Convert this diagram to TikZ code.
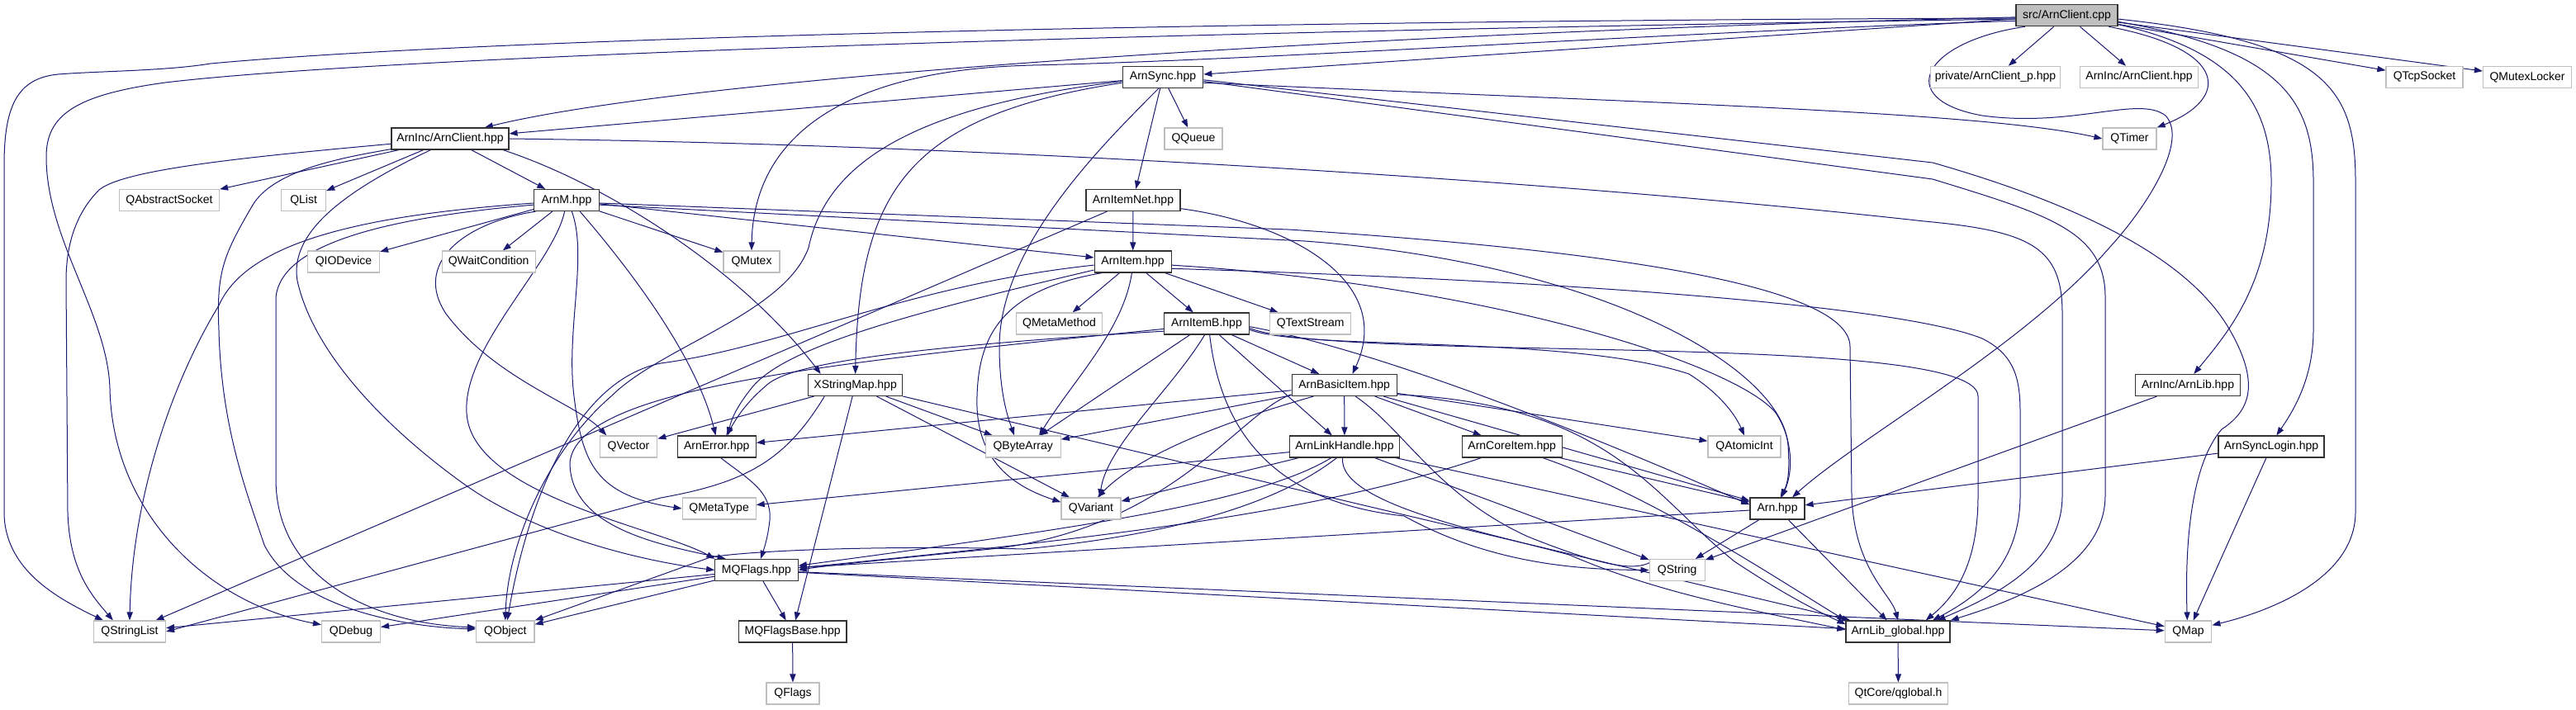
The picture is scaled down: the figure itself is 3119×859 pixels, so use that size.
\documentclass[tikz,border=0pt]{standalone}
\usepackage{fontspec}
\setmainfont{Liberation Sans}
\usetikzlibrary{arrows.meta}
\definecolor{edgec}{HTML}{191970}
\definecolor{grayb}{HTML}{BFBFBF}
\pgfdeclarelayer{bg}
\pgfsetlayers{bg,main}
\begin{document}
\begin{tikzpicture}[x=0.5pt,y=-0.5pt,
 nbox/.style={font=\fontsize{7}{8}\selectfont, inner xsep=1pt, inner ysep=0pt, minimum height=13pt, line width=0.6pt, fill=white},
 doc/.style={nbox, draw=black!80},
 ext/.style={nbox, draw=grayb},
 srcn/.style={nbox, draw=black!80, fill=grayb},
 edg/.style={draw=edgec, line width=0.5pt, -{Triangle[length=5pt,width=3.6pt]}}]
\useasboundingbox (0,0) rectangle (3119,859);
% nodes
\node[srcn, minimum width=61.5pt] (S) at (2502.5,18.7) {src/ArnClient.cpp};
\node[ext, minimum width=78.5pt] (priv) at (2416,93.3) {private/ArnClient\_p.hpp};
\node[ext, minimum width=71.5pt] (ACg) at (2590,93.3) {ArnInc/ArnClient.hpp};
\node[ext, minimum width=46.5pt] (QTcpSocket) at (2935.5,93.3) {QTcpSocket};
\node[ext, minimum width=53.5pt] (QMutexLocker) at (3060,93.3) {QMutexLocker};
\node[ext, minimum width=32.5pt] (QTimer) at (2578.5,168) {QTimer};
\node[doc, minimum width=48.75pt] (AS) at (1408,93.3) {ArnSync.hpp};
\node[ext, minimum width=35pt] (QQueue) at (1445,168) {QQueue};
\node[doc, minimum width=57pt] (AIN) at (1372,242.5) {ArnItemNet.hpp};
\node[doc, minimum width=71pt] (AC) at (545,168) {ArnInc/ArnClient.hpp};
\node[ext, minimum width=60.5pt] (QAbstractSocket) at (205,242.5) {QAbstractSocket};
\node[ext, minimum width=27pt] (QList) at (367.6,242.5) {QList};
\node[doc, minimum width=39.25pt] (AM) at (686,242.5) {ArnM.hpp};
\node[ext, minimum width=43.5pt] (QIODevice) at (416,317) {QIODevice};
\node[ext, minimum width=56.5pt] (QWaitCondition) at (591.6,317) {QWaitCondition};
\node[ext, minimum width=34pt] (QMutex) at (910,317) {QMutex};
\node[doc, minimum width=46.5pt] (AI) at (1371.6,317) {ArnItem.hpp};
\node[ext, minimum width=52pt] (QMetaMethod) at (1282.5,392) {QMetaMethod};
\node[doc, minimum width=51.25pt] (AIB) at (1461,392) {ArnItemB.hpp};
\node[ext, minimum width=49pt] (QTextStream) at (1586.6,392) {QTextStream};
\node[doc, minimum width=57pt] (XS) at (1035.6,466.5) {XStringMap.hpp};
\node[doc, minimum width=63.5pt] (ABI) at (1627.6,466.5) {ArnBasicItem.hpp};
\node[doc, minimum width=63.5pt] (AL) at (2649,466.5) {ArnInc/ArnLib.hpp};
\node[ext, minimum width=34.75pt] (QVector) at (761,541) {QVector};
\node[doc, minimum width=47.5pt] (AE) at (867.8,541) {ArnError.hpp};
\node[ext, minimum width=45.5pt] (QByteArray) at (1238.7,541) {QByteArray};
\node[doc, minimum width=66.5pt] (ALH) at (1628,541) {ArnLinkHandle.hpp};
\node[doc, minimum width=60.5pt] (ACI) at (1830.7,541) {ArnCoreItem.hpp};
\node[ext, minimum width=44pt] (QAtomicInt) at (2112,541) {QAtomicInt};
\node[doc, minimum width=64pt] (ASL) at (2750,541) {ArnSyncLogin.hpp};
\node[ext, minimum width=44.5pt] (QMetaType) at (870.6,616) {QMetaType};
\node[ext, minimum width=36pt] (QVariant) at (1321,616) {QVariant};
\node[doc, minimum width=33pt] (A) at (2152,616) {Arn.hpp};
\node[doc, minimum width=50.25pt] (MQ) at (916,690.5) {MQFlags.hpp};
\node[ext, minimum width=33.5pt] (QString) at (2030.6,690.5) {QString};
\node[ext, minimum width=43.5pt] (QStringList) at (157,765) {QStringList};
\node[ext, minimum width=35.5pt] (QDebug) at (425,765) {QDebug};
\node[ext, minimum width=35.25pt] (QObject) at (611.8,765) {QObject};
\node[doc, minimum width=65.3pt] (MQB) at (959.6,765) {MQFlagsBase.hpp};
\node[doc, minimum width=63pt] (ALG) at (2298,765) {ArnLib\_global.hpp};
\node[ext, minimum width=28.3pt] (QMap) at (2649.5,765) {QMap};
\node[ext, minimum width=32pt] (QFlags) at (960,840) {QFlags};
\node[ext, minimum width=60pt] (qglobal) at (2298.5,840) {QtCore/qglobal.h};
\begin{pgfonlayer}{bg}
% src/ArnClient.cpp
\draw[edg] (S) -- (priv);
\draw[edg] (S) -- (ACg);
\draw[edg] (S) -- (QTcpSocket);
\draw[edg] (S) -- (QMutexLocker);
\draw[edg] (S) -- (AS);
\draw[edg] (S.182) .. controls (1700,38) and (850,90) .. (AC.18);
\draw[edg] (S.183) .. controls (1500,25) and (600,45) .. (255,77) .. controls (200,86) and (120,86) .. (70,90) .. controls (20,95) and (5,130) .. (5,200) -- (5,620) .. controls (5,690) and (70,725) .. (QStringList.157);
\draw[edg] (S.184) .. controls (1300,40) and (450,70) .. (200,100) .. controls (90,115) and (56,140) .. (56,190) .. controls (56,290) and (130,380) .. (133,470) .. controls (136,620) and (250,730) .. (QDebug.167);
\draw[edg] (S.186) .. controls (2000,40) and (1550,72) .. (1250,79) .. controls (1000,85) and (912,180) .. (QMutex.north);
\draw[edg] (S.-15) .. controls (2700,60) and (2700,120) .. (QTimer.north east);
\draw[edg] (S.195) .. controls (2330,50) and (2290,120) .. (2400,140) .. controls (2510,155) and (2590,115) .. (2622,140) .. controls (2650,170) and (2600,250) .. (2554,300) .. controls (2450,420) and (2250,530) .. (A.37);
\draw[edg] (S.-10) .. controls (2700,60) and (2750,120) .. (2750,220) .. controls (2750,340) and (2700,400) .. (AL.62);
\draw[edg] (S.-7) .. controls (2760,60) and (2801,120) .. (2801,220) -- (2801,400) .. controls (2801,460) and (2775,500) .. (ASL.65);
\draw[edg] (S.-4) .. controls (2820,50) and (2852,110) .. (2852,220) -- (2852,620) .. controls (2852,700) and (2750,740) .. (QMap.15);
% ArnSync
\draw[edg] (AS) -- (AC);
\draw[edg] (AS) -- (QQueue);
\draw[edg] (AS) -- (AIN);
\draw[edg] (AS.-8) .. controls (2000,125) and (2400,135) .. (QTimer.west);
\draw[edg] (AS.-110) .. controls (1330,180) and (1210,300) .. (1210,420) .. controls (1210,480) and (1222,510) .. (QByteArray.128);
\draw[edg] (AS.188) .. controls (1100,140) and (1040,230) .. (XS.north);
\draw[edg] (AS.186) .. controls (1100,130) and (1000,200) .. (979,300) .. controls (950,380) and (800,420) .. (740,480) .. controls (670,540) and (615,650) .. (QObject.north);
\draw[edg] (AS.-4) -- (2340,197) .. controls (2560,260) and (2660,330) .. (2700,400) .. controls (2740,470) and (2720,500) .. (2690,520) .. controls (2655,560) and (2645,650) .. (QMap.95);
\draw[edg] (AS.-6) -- (2340,217) .. controls (2480,260) and (2549,280) .. (2549,360) -- (2549,600) .. controls (2549,690) and (2430,730) .. (ALG.12);
% ArnInc/ArnClient.hpp
\draw[edg] (AC) -- (QAbstractSocket);
\draw[edg] (AC) -- (QList);
\draw[edg] (AC) -- (AM);
\draw[edg] (AC.-12) .. controls (740,225) and (900,330) .. (XS.162);
\draw[edg] (AC.185) .. controls (300,190) and (150,205) .. (120,230) .. controls (90,260) and (80,300) .. (80,340) -- (82,620) .. controls (84,690) and (110,720) .. (QStringList.146);
\draw[edg] (AC.190) .. controls (420,190) and (330,205) .. (305,250) .. controls (270,310) and (262,330) .. (265,400) .. controls (268,520) and (300,600) .. (320,660) .. controls (360,740) and (500,760) .. (QObject.175);
\draw[edg] (AC.-150) .. controls (420,230) and (350,280) .. (360,340) .. controls (380,430) and (470,520) .. (560,585) .. controls (650,650) and (780,680) .. (MQ.west);
\draw[edg] (AC.east) .. controls (1200,175) and (1900,220) .. (2330,268) .. controls (2460,280) and (2497,300) .. (2497,380) -- (2497,600) .. controls (2497,680) and (2420,720) .. (ALG.16);
% ArnItemNet
\draw[edg] (AIN) -- (AI);
\draw[edg] (AIN) -- (QStringList);
\draw[edg] (AIN.-10) .. controls (1560,270) and (1690,340) .. (ABI.54);
% ArnM
\draw[edg] (AM) -- (QIODevice);
\draw[edg] (AM) -- (QWaitCondition);
\draw[edg] (AM) -- (QMutex);
\draw[edg] (AM) -- (AI);
\draw[edg] (AM.185) .. controls (450,260) and (300,290) .. (265,370) .. controls (210,460) and (160,600) .. (QStringList.north);
\draw[edg] (AM.188) .. controls (450,265) and (340,300) .. (334,360) -- (334,580) .. controls (334,700) and (450,755) .. (QObject.172);
\draw[edg] (AM.200) .. controls (560,270) and (500,320) .. (540,380) .. controls (600,460) and (700,490) .. (QVector.153);
\draw[edg] (AM.-40) .. controls (740,300) and (840,420) .. (AE.95);
\draw[edg] (AM.-100) .. controls (670,320) and (560,420) .. (565,500) .. controls (570,600) and (800,640) .. (MQ.165);
\draw[edg] (AM.-65) .. controls (712,310) and (685,400) .. (695,480) .. controls (705,560) and (720,600) .. (QMetaType.west);
\draw[edg] (AM.-5) -- (1560,278) .. controls (1900,300) and (2240,340) .. (2240,420) -- (2242,600) .. controls (2245,690) and (2290,720) .. (ALG.north);
\draw[edg] (AM.-8) -- (1580,292) .. controls (1950,320) and (2160,450) .. (2165,540) .. controls (2167,570) and (2165,585) .. (A.75);
% ArnItem
\draw[edg] (AI) -- (QMetaMethod);
\draw[edg] (AI) -- (AIB);
\draw[edg] (AI) -- (QTextStream);
\draw[edg] (AI.-95) .. controls (1360,400) and (1300,460) .. (QByteArray.35);
\draw[edg] (AI.192) .. controls (1100,380) and (950,420) .. (910,470) .. controls (890,495) and (885,510) .. (AE.45);
\draw[edg] (AI.185) .. controls (1100,345) and (950,420) .. (800,440) .. controls (700,460) and (640,600) .. (QObject.80);
\draw[edg] (AI.200) .. controls (1220,350) and (1185,400) .. (1183,480) .. controls (1180,560) and (1230,590) .. (QVariant.168);
\draw[edg] (AI.-10) .. controls (1900,340) and (2300,370) .. (2400,410) .. controls (2440,430) and (2446,460) .. (2446,500) -- (2446,600) .. controls (2446,680) and (2400,720) .. (ALG.18);
\draw[edg] (AI.-5) .. controls (1800,345) and (2100,440) .. (2150,500) .. controls (2170,530) and (2172,570) .. (A.70);
% ArnItemB
\draw[edg] (AIB) -- (ABI);
\draw[edg] (AIB) -- (ALH);
\draw[edg] (AIB) -- (QByteArray);
\draw[edg] (AIB.190) .. controls (1100,420) and (960,440) .. (930,465) .. controls (900,490) and (890,510) .. (AE.50);
\draw[edg] (AIB.-100) .. controls (1420,470) and (1340,540) .. (QVariant.52);
\draw[edg] (AIB.187) .. controls (1000,440) and (700,470) .. (690,560) .. controls (690,640) and (800,660) .. (MQ.160);
\draw[edg] (AIB.-4) .. controls (1700,430) and (2000,560) .. (A.172);
\draw[edg] (AIB.-75) .. controls (1480,540) and (1560,610) .. (1700,625) .. controls (1800,680) and (1900,690) .. (QString.west);
\draw[edg] (AIB.-8) .. controls (1580,425) and (1900,405) .. (2045,453) .. controls (2080,475) and (2100,500) .. (QAtomicInt.north);
\draw[edg] (AIB.-6) .. controls (1620,440) and (2395,400) .. (2395,480) -- (2395,600) .. controls (2395,680) and (2370,720) .. (ALG.22);
% ArnBasicItem
\draw[edg] (ABI) -- (ALH);
\draw[edg] (ABI) -- (ACI);
\draw[edg] (ABI) -- (QAtomicInt);
\draw[edg] (ABI) -- (AE);
\draw[edg] (ABI) -- (QByteArray);
\draw[edg] (ABI) -- (A);
\draw[edg] (ABI.-160) .. controls (1450,520) and (1370,560) .. (QVariant.60);
\draw[edg] (ABI.190) .. controls (1500,500) and (1420,640) .. (1200,665) .. controls (1100,675) and (1000,685) .. (MQ.east);
\draw[edg] (ABI.-45) .. controls (1700,520) and (1740,600) .. (1850,650) .. controls (1950,690) and (1980,690) .. (QString.150);
\draw[edg] (ABI.-10) .. controls (1950,490) and (2000,600) .. (2100,680) .. controls (2160,720) and (2200,740) .. (ALG.172);
% ArnLinkHandle
\draw[edg] (ALH) -- (QMetaType);
\draw[edg] (ALH) -- (QVariant);
\draw[edg] (ALH) -- (QString);
\draw[edg] (ALH) -- (QMap);
\draw[edg] (ALH.-140) .. controls (1520,610) and (1300,640) .. (MQ.6);
\draw[edg] (ALH.-125) .. controls (1560,600) and (1450,645) .. (1240,665) .. controls (1050,660) and (900,668) .. (860,675) -- (QObject.north east);
\draw[edg] (ALH.-100) .. controls (1620,610) and (1800,645) .. (1900,672) .. controls (2000,715) and (2100,735) .. (ALG.178);
% ArnCoreItem
\draw[edg] (ACI) -- (A);
\draw[edg] (ACI.-160) .. controls (1600,620) and (1350,650) .. (MQ.3);
\draw[edg] (ACI.-20) .. controls (2000,600) and (2150,700) .. (ALG.168);
% Arn.hpp
\draw[edg] (A) -- (QString);
\draw[edg] (A) -- (ALG);
\draw[edg] (A) -- (MQ);
% others
\draw[edg] (AL) -- (QString);
\draw[edg] (ASL) -- (A);
\draw[edg] (ASL) -- (QMap);
\draw[edg] (AE.-70) .. controls (905,580) and (935,595) .. (932,630) .. controls (930,650) and (925,665) .. (MQ.70);
% XStringMap
\draw[edg] (XS) -- (QVector);
\draw[edg] (XS) -- (QByteArray);
\draw[edg] (XS) -- (QVariant);
\draw[edg] (XS) -- (MQB);
\draw[edg] (XS) -- (ALG);
\draw[edg] (XS.-160) .. controls (950,560) and (900,585) .. (800,603) -- (QStringList.east);
% MQFlags
\draw[edg] (MQ) -- (QStringList);
\draw[edg] (MQ) -- (QDebug);
\draw[edg] (MQ) -- (QObject);
\draw[edg] (MQ) -- (MQB);
\draw[edg] (MQ) -- (ALG);
\draw[edg] (MQ) -- (QMap);
\draw[edg] (MQB) -- (QFlags);
\draw[edg] (ALG) -- (qglobal);
\end{pgfonlayer}
\end{tikzpicture}
\end{document}
